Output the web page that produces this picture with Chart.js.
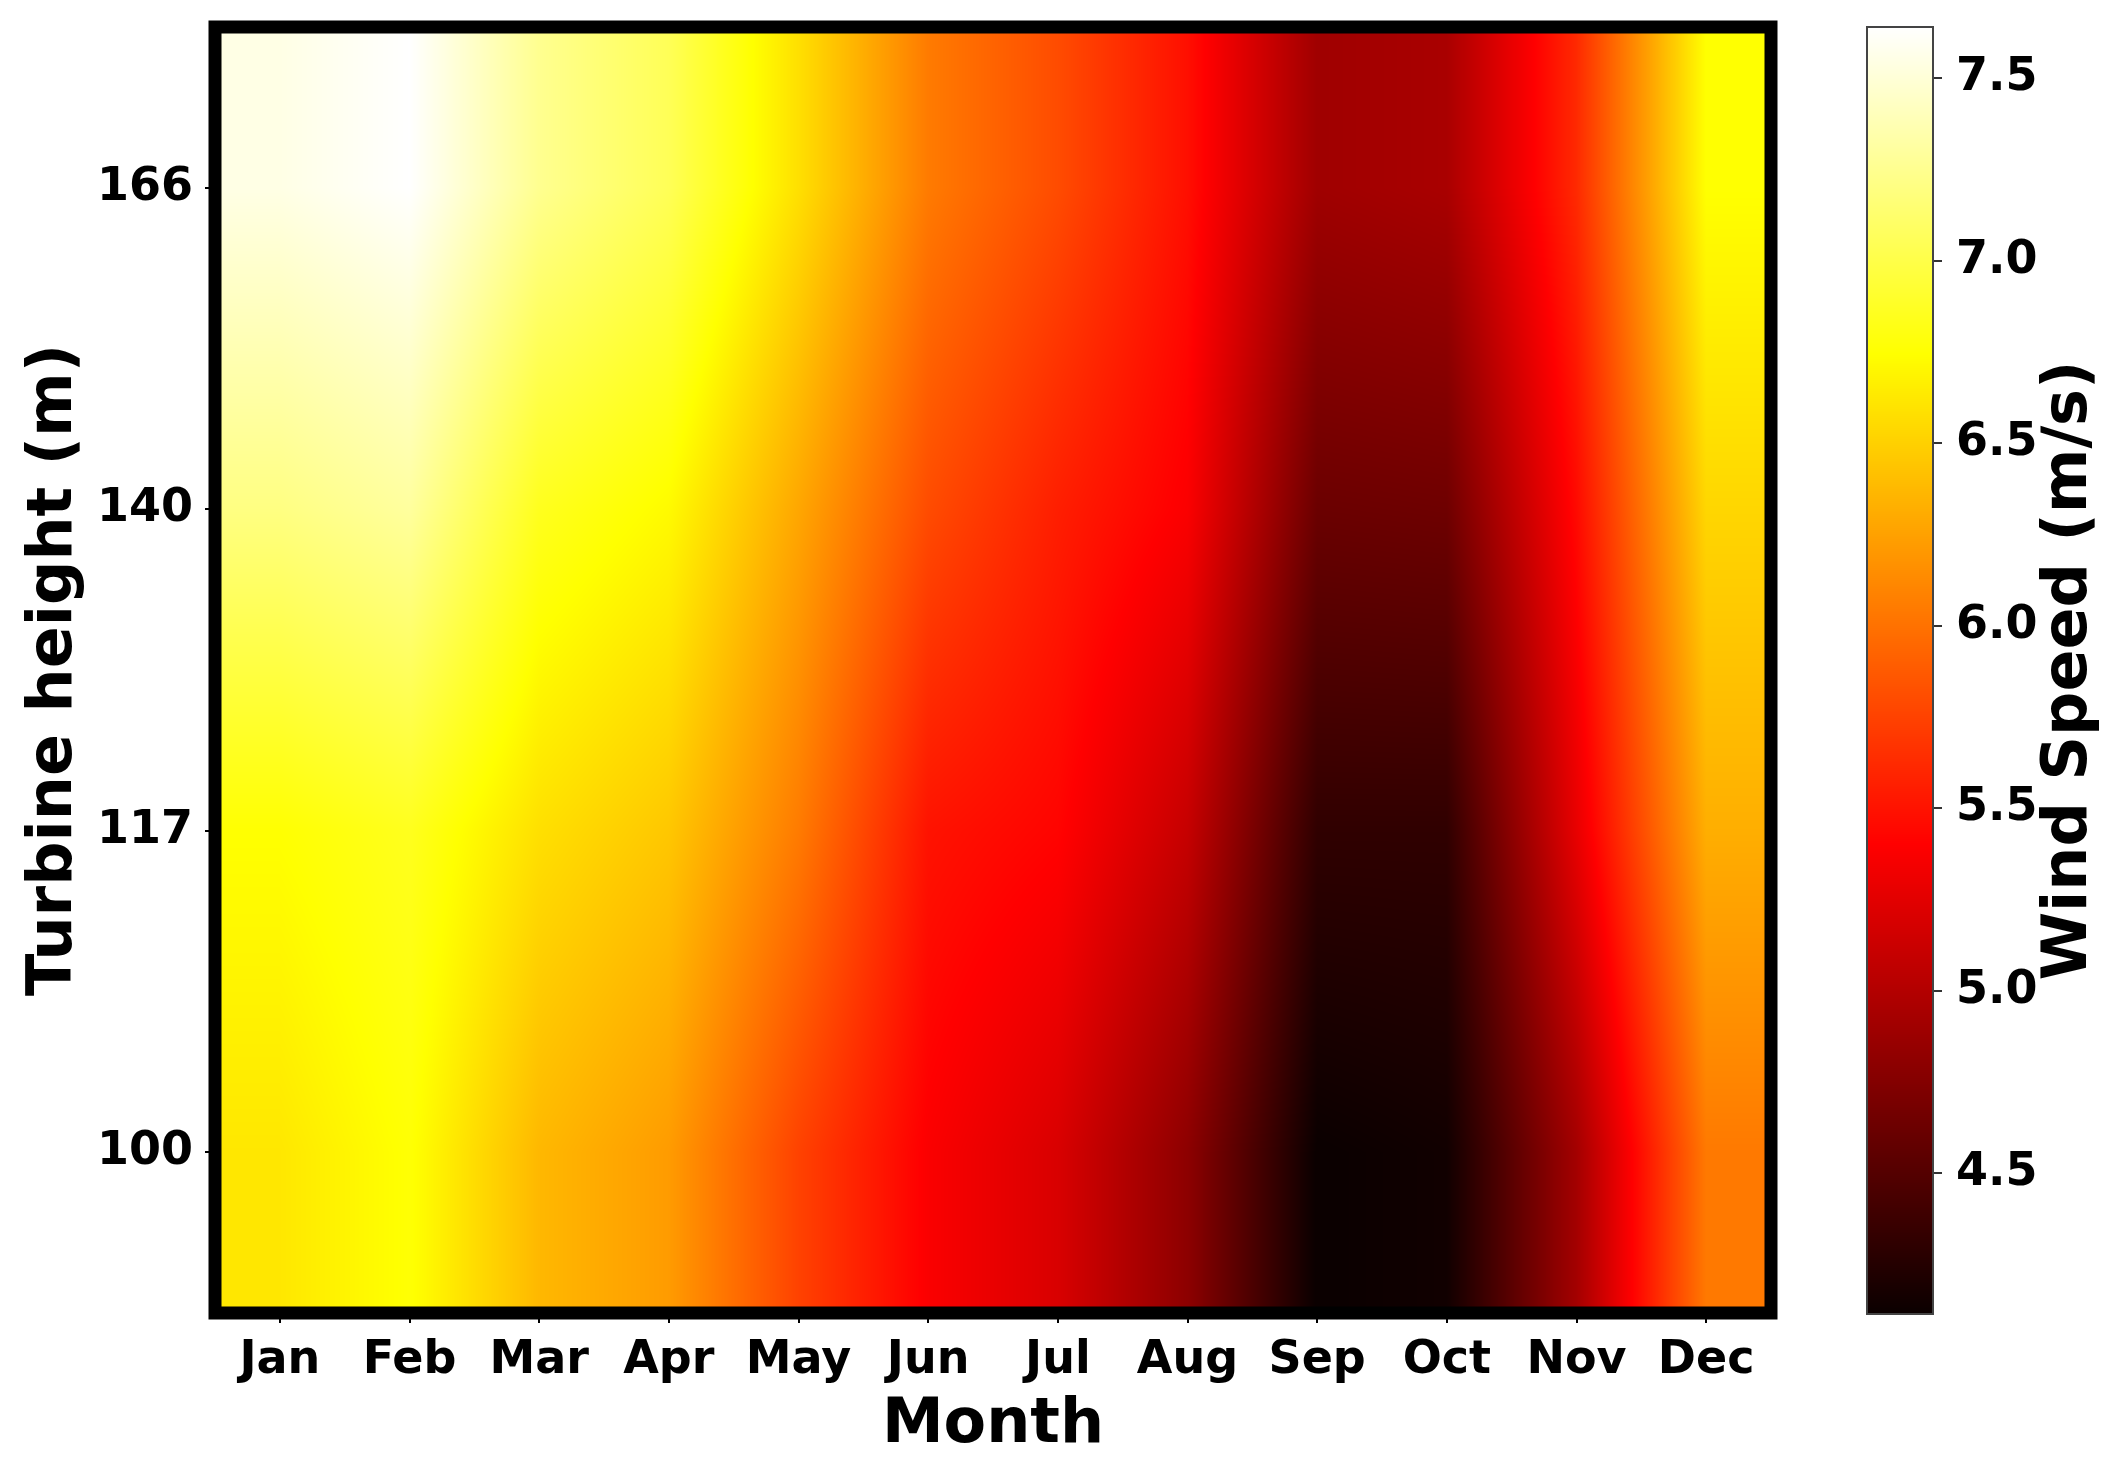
<!DOCTYPE html>
<html><head><meta charset="utf-8">
<script src="https://cdn.jsdelivr.net/npm/chart.js@4/dist/chart.umd.min.js"></script>
<style>
html,body{margin:0;padding:0;background:#fff;}
#wrap{position:relative;width:2128px;height:1457px;overflow:hidden;}
</style></head><body>
<div id="wrap">
<canvas id="main" width="1800" height="1457" style="position:absolute;left:0;top:0"></canvas>
<canvas id="cbar" width="328" height="1457" style="position:absolute;left:1800px;top:0"></canvas>
</div>
<script>
// ---- data ----
const months = ['Jan','Feb','Mar','Apr','May','Jun','Jul','Aug','Sep','Oct','Nov','Dec'];
const heights = ['100','117','140','166'];
const speed100 = [6.62, 6.76, 6.37, 6.22, 5.75, 5.38, 5.20, 4.80, 4.11, 4.15, 4.92, 6.04];
const speed117 = [6.75, 6.85, 6.58, 6.45, 6.05, 5.50, 5.42, 5.10, 4.31, 4.31, 5.28, 6.32];
const speed140 = [7.20, 7.30, 6.85, 6.72, 6.28, 5.80, 5.56, 5.38, 4.62, 4.64, 5.45, 6.53];
const speed166 = [7.55, 7.64, 7.25, 7.05, 6.58, 6.05, 5.80, 5.48, 4.90, 4.95, 5.62, 6.75];
const cbTicks = [4.5, 5.0, 5.5, 6.0, 6.5, 7.0, 7.5];
const vmin = 4.115, vmax = 7.641;

const grid = [speed100, speed117, speed140, speed166];
const FONT = "'DejaVu Sans', sans-serif";

function hot(t){
  t = Math.min(1, Math.max(0, t));
  const a = 0.365079, b = 0.746032;
  const r = t < a ? 0.0416 + (1 - 0.0416) * t / a : 1;
  const g = t < a ? 0 : (t < b ? (t - a) / (b - a) : 1);
  const bl = t < b ? 0 : (t - b) / (1 - b);
  return [Math.round(r * 255), Math.round(g * 255), Math.round(bl * 255)];
}
function sample(u, v){
  const nx = months.length - 1, ny = heights.length - 1;
  u = Math.min(nx, Math.max(0, u)); v = Math.min(ny, Math.max(0, v));
  const i0 = Math.min(nx - 1, Math.floor(u)), j0 = Math.min(ny - 1, Math.floor(v));
  const fx = u - i0, fy = v - j0;
  const a = grid[j0][i0], b = grid[j0][i0 + 1], c = grid[j0 + 1][i0], d = grid[j0 + 1][i0 + 1];
  return (a * (1 - fx) + b * fx) * (1 - fy) + (c * (1 - fx) + d * fx) * fy;
}
function noPad(s){ s.paddingTop = 0; s.paddingBottom = 0; s.paddingLeft = 0; s.paddingRight = 0; }

const heatPlugin = {
  id: 'heat',
  beforeDatasetsDraw(chart){
    const {ctx, chartArea: ar, scales: {x, y}} = chart;
    const w = Math.round(ar.right - ar.left), h = Math.round(ar.bottom - ar.top);
    const off = document.createElement('canvas');
    off.width = w; off.height = h;
    const octx = off.getContext('2d');
    const img = octx.createImageData(w, h);
    const us = new Float64Array(w);
    for (let px = 0; px < w; px++) us[px] = x.getValueForPixel(ar.left + px + 0.5);
    for (let py = 0; py < h; py++){
      const v = y.getValueForPixel(ar.top + py + 0.5);
      for (let px = 0; px < w; px++){
        const val = sample(us[px], v);
        const c = hot((val - vmin) / (vmax - vmin));
        const k = (py * w + px) * 4;
        img.data[k] = c[0]; img.data[k + 1] = c[1]; img.data[k + 2] = c[2]; img.data[k + 3] = 255;
      }
    }
    octx.putImageData(img, 0, 0);
    ctx.drawImage(off, ar.left, ar.top);
  },
  afterDraw(chart){
    const {ctx, chartArea: ar} = chart;
    ctx.save();
    ctx.strokeStyle = '#000';
    ctx.lineWidth = 13;
    ctx.strokeRect(ar.left, ar.top, ar.right - ar.left, ar.bottom - ar.top);
    ctx.restore();
  }
};

const cells = [];
grid.forEach((row, j) => row.forEach((val, i) => cells.push({x: i, y: j, v: val})));

new Chart(document.getElementById('main'), {
  type: 'scatter',
  data: { datasets: [{ data: cells, pointRadius: 0, pointHoverRadius: 0 }] },
  plugins: [heatPlugin],
  options: {
    responsive: false,
    animation: false,
    layout: { padding: { top: 27, right: 29, left: 0, bottom: 0 } },
    plugins: { legend: { display: false }, tooltip: { enabled: false } },
    scales: {
      x: {
        type: 'linear', min: -0.5, max: 11.5,
        afterBuildTicks(s){ s.ticks = months.map((_, i) => ({ value: i })); },
        afterFit(s){ s.height = 144; noPad(s); },
        ticks: { callback: v => months[v], font: { family: FONT, size: 46, weight: 'bold' }, color: '#000', padding: 10, maxRotation: 0, autoSkip: false },
        grid: { drawOnChartArea: false, drawTicks: true, tickLength: 10, tickColor: '#000', lineWidth: 2 },
        border: { display: false },
        title: { display: true, text: 'Month', font: { family: FONT, size: 62, weight: 'bold', lineHeight: 1.0 }, color: '#000', padding: { top: 0, bottom: 0 } }
      },
      y: {
        type: 'linear', min: -0.5, max: 3.5,
        afterBuildTicks(s){ s.ticks = heights.map((_, i) => ({ value: i })); },
        afterFit(s){ s.width = 215; noPad(s); },
        ticks: { callback: v => heights[v], font: { family: FONT, size: 46, weight: 'bold' }, color: '#000', padding: 12, autoSkip: false },
        grid: { drawOnChartArea: false, drawTicks: true, tickLength: 10, tickColor: '#000', lineWidth: 2 },
        border: { display: false },
        title: { display: true, text: 'Turbine height (m)', font: { family: FONT, size: 62, weight: 'bold' }, color: '#000', padding: { top: 18, bottom: 0 } }
      }
    }
  }
});

const cbarPlugin = {
  id: 'cbarfill',
  beforeDatasetsDraw(chart){
    const {ctx, chartArea: ar, scales: {y}} = chart;
    ctx.save();
    for (let py = Math.floor(ar.top); py < Math.ceil(ar.bottom); py++){
      const val = y.getValueForPixel(py + 0.5);
      const c = hot((val - vmin) / (vmax - vmin));
      ctx.fillStyle = `rgb(${c[0]},${c[1]},${c[2]})`;
      ctx.fillRect(ar.left, py, ar.right - ar.left, 1);
    }
    ctx.strokeStyle = '#444';
    ctx.lineWidth = 2;
    ctx.strokeRect(ar.left, ar.top, ar.right - ar.left, ar.bottom - ar.top);
    ctx.restore();
  },
  afterDraw(chart){
    const {ctx, chartArea: ar} = chart;
    ctx.save();
    ctx.translate(270, (ar.top + ar.bottom) / 2);
    ctx.rotate(-Math.PI / 2);
    ctx.textAlign = 'center';
    ctx.textBaseline = 'middle';
    ctx.fillStyle = '#000';
    ctx.font = `bold 62px ${FONT}`;
    ctx.fillText('Wind Speed (m/s)', 0, 0);
    ctx.restore();
  }
};

new Chart(document.getElementById('cbar'), {
  type: 'scatter',
  data: { datasets: [{ data: cbTicks.map(v => ({ x: 0.5, y: v })), pointRadius: 0, pointHoverRadius: 0 }] },
  plugins: [cbarPlugin],
  options: {
    responsive: false,
    animation: false,
    layout: { padding: { top: 27, bottom: 143, left: 67, right: 0 } },
    plugins: { legend: { display: false }, tooltip: { enabled: false } },
    scales: {
      x: { type: 'linear', display: false, min: 0, max: 1 },
      y: {
        type: 'linear', position: 'right', min: vmin, max: vmax,
        afterBuildTicks(s){ s.ticks = cbTicks.map(v => ({ value: v })); },
        afterFit(s){ s.width = 195; noPad(s); },
        ticks: { callback: v => v.toFixed(1), font: { family: FONT, size: 46, weight: 'bold' }, color: '#000', padding: 14, autoSkip: false },
        grid: { drawOnChartArea: false, drawTicks: true, tickLength: 9, tickColor: '#333', lineWidth: 2 },
        border: { display: false }
      }
    }
  }
});
</script>
</body></html>
